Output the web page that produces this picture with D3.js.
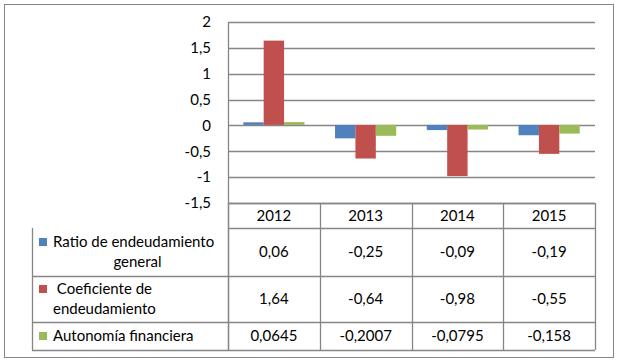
<head>
  <meta charset="utf-8">
  <title>Endeudamiento</title>
  <script src="https://d3js.org/d3.v7.min.js"></script>
  <style>
    body { margin: 0; background: #fff; }
    text { font-family: Lato, "Open Sans", sans-serif; fill: #000; }
  </style>
</head>

<body>
  <div id="chart"></div>
  <script>
    // data
    var years = ["2012", "2013", "2014", "2015"];
    var seriesNames = ["Ratio de endeudamiento general", "Coeficiente de endeudamiento", "Autonomía financiera"];
    var legendLines = [["Ratio de endeudamiento", "general"], [" Coeficiente de", "endeudamiento"], ["Autonomía financiera"]];
    var ratioGeneral = [0.06, -0.25, -0.09, -0.19];
    var coeficiente = [1.64, -0.64, -0.98, -0.55];
    var autonomia = [0.0645, -0.2007, -0.0795, -0.158];
    var yTicks = [-1.5, -1, -0.5, 0, 0.5, 1, 1.5, 2];
    var colors = ["#4f81bd", "#c0504d", "#9bbb59"];

    var values = [ratioGeneral, coeficiente, autonomia];

    var W = 620, H = 362;
    var plotLeft = 228, plotRight = 595, plotTop = 22, plotBottom = 203;
    var legLeft = 32;
    var rowEdges = [203, 228, 276, 322, 350]; // header, row1, row2, row3
    var gridColor = "#868686";
    var fontSize = "15px";

    var svg = d3.select("#chart").append("svg")
      .attr("width", W).attr("height", H);

    // outer frame
    svg.append("rect")
      .attr("x", 4.5).attr("y", 4.5)
      .attr("width", 609).attr("height", 353)
      .attr("fill", "none").attr("stroke", gridColor).attr("stroke-width", 1);

    var x = d3.scaleBand().domain(years).range([plotLeft, plotRight]).padding(0);
    var x1 = d3.scaleBand().domain(seriesNames).range([0, x.bandwidth()])
      .paddingInner(0).paddingOuter(0.75);
    var y = d3.scaleLinear().domain([-1.5, 2]).range([plotBottom, plotTop]);

    var locale = d3.formatLocale({ decimal: ",", thousands: ".", grouping: [3], currency: ["", "€"], minus: "-" });
    var fmt = function (d) { return locale.format("")(d); };

    // gridlines
    svg.append("g").selectAll("line")
      .data(yTicks)
      .join("line")
      .attr("x1", plotLeft).attr("x2", plotRight)
      .attr("y1", function (d) { return Math.round(y(d)) + 0.5; })
      .attr("y2", function (d) { return Math.round(y(d)) + 0.5; })
      .attr("stroke", gridColor).attr("stroke-width", 1.3);

    // y axis labels
    var yAxis = svg.append("g")
      .attr("transform", "translate(" + plotLeft + ",0)")
      .call(d3.axisLeft(y).tickValues(yTicks).tickFormat(fmt).tickSize(0).tickPadding(17));
    yAxis.select(".domain").remove();
    yAxis.selectAll("text")
      .style("font-family", "Lato, sans-serif")
      .style("font-size", "15px")
      .attr("fill", "#000");

    // bars
    var barData = [];
    values.forEach(function (arr, si) {
      arr.forEach(function (v, yi) {
        barData.push({ year: years[yi], series: seriesNames[si], value: v, color: colors[si] });
      });
    });

    svg.append("g").selectAll("rect")
      .data(barData)
      .join("rect")
      .attr("x", function (d) { return x(d.year) + x1(d.series); })
      .attr("y", function (d) { return Math.min(y(d.value), y(0) - 0.5); })
      .attr("width", x1.bandwidth())
      .attr("height", function (d) { return Math.abs(y(d.value) - y(0) + 0.5); })
      .attr("fill", function (d) { return d.color; });

    // left axis line
    svg.append("line")
      .attr("x1", plotLeft + 0.5).attr("x2", plotLeft + 0.5)
      .attr("y1", plotTop).attr("y2", rowEdges[4])
      .attr("stroke", gridColor).attr("stroke-width", 1.3);

    // data table
    var table = svg.append("g");
    var lineStyle = function (sel) { sel.attr("stroke", gridColor).attr("stroke-width", 1.3); };

    // horizontal lines of table
    rowEdges.forEach(function (ry, i) {
      table.append("line")
        .attr("x1", i < 2 ? plotLeft : legLeft).attr("x2", plotRight)
        .attr("y1", ry + 0.5).attr("y2", ry + 0.5)
        .call(lineStyle);
    });
    // vertical lines
    var colEdges = years.map(function (d) { return x(d); }).concat([plotRight]);
    colEdges.forEach(function (cx) {
      table.append("line")
        .attr("x1", Math.round(cx) + 0.5).attr("x2", Math.round(cx) + 0.5)
        .attr("y1", rowEdges[0]).attr("y2", rowEdges[4])
        .call(lineStyle);
    });
    table.append("line")
      .attr("x1", legLeft + 0.5).attr("x2", legLeft + 0.5)
      .attr("y1", rowEdges[1]).attr("y2", rowEdges[4])
      .call(lineStyle);

    // header years
    table.selectAll(".yr")
      .data(years)
      .join("text")
      .attr("class", "yr")
      .attr("x", function (d) { return x(d) + x.bandwidth() / 2; })
      .attr("y", (rowEdges[0] + rowEdges[1]) / 2)
      .attr("dy", "0.36em")
      .attr("text-anchor", "middle")
      .style("font-size", fontSize)
      .text(function (d) { return d; });

    // rows
    values.forEach(function (arr, si) {
      var top = rowEdges[si + 1], bot = rowEdges[si + 2];
      var mid = (top + bot) / 2;
      arr.forEach(function (v, yi) {
        table.append("text")
          .attr("x", x(years[yi]) + x.bandwidth() / 2)
          .attr("y", mid).attr("dy", "0.36em")
          .attr("text-anchor", "middle")
          .style("font-size", fontSize)
          .text(fmt(v));
      });

      var lines = legendLines[si];
      var lh = 20;
      var firstY = mid - (lines.length - 1) * lh / 2;
      table.append("rect")
        .attr("x", 39).attr("y", firstY - 4)
        .attr("width", 8).attr("height", 8)
        .attr("fill", colors[si]);
      lines.forEach(function (ln, li) {
        var t = table.append("text")
          .attr("y", firstY + li * lh).attr("dy", "0.36em")
          .style("font-size", fontSize)
          .style("white-space", "pre")
          .attr("xml:space", "preserve")
          .text(ln);
        if (si === 0 && li === 1) {
          t.attr("x", 137.5).attr("text-anchor", "middle");
        } else {
          t.attr("x", 53);
        }
      });
    });
  </script>
</body>

</html>
